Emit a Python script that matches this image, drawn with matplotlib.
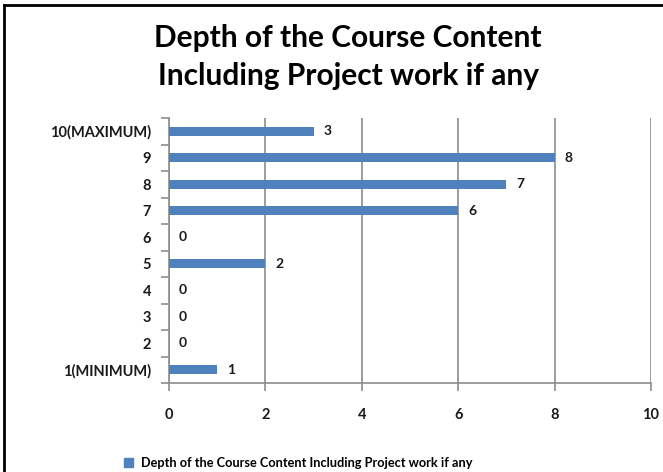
import matplotlib
matplotlib.use("Agg")
import matplotlib.pyplot as plt
from matplotlib.lines import Line2D
from matplotlib.patches import Patch

categories = ["1(MINIMUM)", "2", "3", "4", "5", "6", "7", "8", "9", "10(MAXIMUM)"]
values = [1, 0, 0, 0, 2, 0, 6, 7, 8, 3]
series_name = "Depth of the Course Content Including Project work if any"
title = "Depth of the Course Content\nIncluding Project work if any"

bar_color = "#4F81BD"
grid_color = "#8C8C8C"
W, H = 663, 472


def main():
    plt.rcParams["font.family"] = ["Lato", "DejaVu Sans"]
    fig = plt.figure(figsize=(W / 100, H / 100), dpi=100)
    # axes box in pixels: left 169, right 651, top 118, bottom 383
    ax = fig.add_axes([169 / W, 1 - 383 / H, (651 - 169) / W, (383 - 118) / H])

    y = list(range(len(categories)))
    ax.barh(y, values, height=0.35, color=bar_color, zorder=3)
    for yi, v in zip(y, values):
        ax.annotate(str(v), (v, yi), xytext=(7, 0), textcoords="offset points",
                    va="center", ha="left", fontsize=10, fontweight="bold",
                    color="#1a1a1a")

    ax.set_xlim(0, 10)
    ax.set_ylim(-0.5, len(categories) - 0.5)
    ax.set_xticks(range(0, 11, 2))
    ax.set_yticks(y)
    ax.set_yticklabels(categories)
    ax.set_yticks([i - 0.5 for i in range(len(categories) + 1)], minor=True)

    ax.grid(axis="x", color=grid_color, linewidth=1.2, zorder=0)
    for s in ["top", "right"]:
        ax.spines[s].set_visible(False)
    for s in ["left", "bottom"]:
        ax.spines[s].set_color(grid_color)
        ax.spines[s].set_linewidth(1.2)

    ax.tick_params(axis="y", which="major", length=0, pad=13)
    ax.tick_params(axis="y", which="minor", length=6, color=grid_color, width=1.2)
    ax.tick_params(axis="x", length=6, color=grid_color, width=1.2, pad=12)
    for lbl in ax.get_xticklabels() + ax.get_yticklabels():
        lbl.set_fontsize(10.5)
        lbl.set_fontweight("bold")
        lbl.set_color("#1a1a1a")

    fig.text(348 / W, 1 - 57 / H, title, ha="center", va="center",
             fontsize=21.5, fontweight="bold", linespacing=1.42)

    fig.legend(handles=[Patch(color=bar_color, label=series_name)],
               loc="center", bbox_to_anchor=(298 / W, 1 - 463 / H),
               frameon=False, handlelength=0.7, handleheight=0.7,
               handletextpad=0.6, prop={"weight": "bold", "size": 9.2})

    # chart border (only left and top edges visible in the crop)
    fig.add_artist(Line2D([4 / W, 4 / W], [0, 1 - 5 / H], color="black",
                          linewidth=2, transform=fig.transFigure))
    fig.add_artist(Line2D([4 / W, 1], [1 - 5 / H, 1 - 5 / H], color="black",
                          linewidth=2, transform=fig.transFigure))

    fig.savefig("out.png", dpi=100)
    plt.close(fig)


if __name__ == "__main__":
    main()
